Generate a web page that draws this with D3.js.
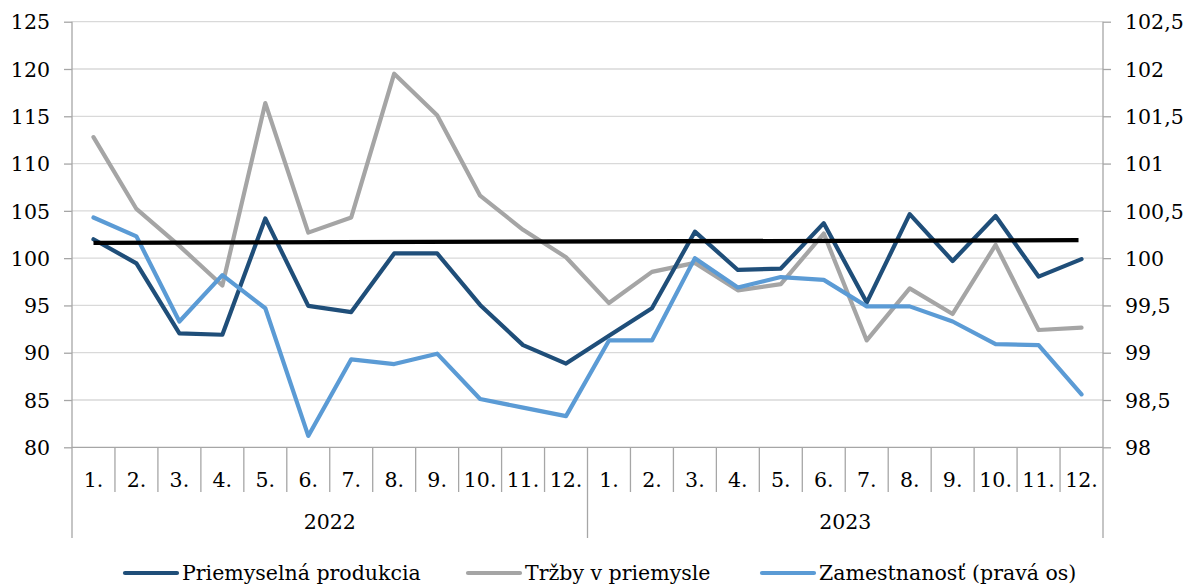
<!DOCTYPE html>
<html>
<head>
<meta charset="utf-8">
<script src="https://cdn.jsdelivr.net/npm/d3@7"></script>
<style>
  html, body { margin: 0; padding: 0; background: #fff; }
  svg text { font-family: "DejaVu Serif", "Liberation Serif", serif; fill: #000; }
</style>
</head>
<body>
<svg id="chart" width="1184" height="585"></svg>
<script>
// Monthly categories grouped by year
const years = ["2022", "2023"];
const months = ["1.", "2.", "3.", "4.", "5.", "6.", "7.", "8.", "9.", "10.", "11.", "12."];

// Index values (left axis)
const production = [102.0, 99.45, 92.05, 91.9, 104.2, 94.95, 94.3, 100.5, 100.5, 95.05, 90.8, 88.85,
                    91.8, 94.7, 102.8, 98.75, 98.9, 103.7, 95.3, 104.65, 99.7, 104.45, 98.05, 99.9];
const sales = [112.8, 105.2, 101.3, 97.1, 116.4, 102.7, 104.3, 119.5, 115.1, 106.6, 103.0, 100.1,
               95.25, 98.55, 99.5, 96.6, 97.25, 102.6, 91.3, 96.8, 94.1, 101.4, 92.4, 92.65];
// Employment index (right axis)
const employment = [100.43, 100.23, 99.33, 99.82, 99.47, 98.12, 98.93, 98.88, 98.99, 98.51, 98.42, 98.33,
                    99.13, 99.13, 100.0, 99.69, 99.80, 99.77, 99.49, 99.49, 99.33, 99.09, 99.08, 98.56];
// Reference line, start and end value on the left axis
const refLine = [101.62, 101.9];

const leftTicks = [80, 85, 90, 95, 100, 105, 110, 115, 120, 125];
const rightTicks = [98, 98.5, 99, 99.5, 100, 100.5, 101, 101.5, 102, 102.5];

const seriesNames = ["Priemyselná produkcia", "Tržby v priemysle", "Zamestnanosť (pravá os)"];
const colors = ["#1F4E79", "#A5A5A5", "#5B9BD5"];

const svg = d3.select("#chart");
const L = 72, R = 1103, T = 21.7, B = 447.3;
const fontSize = 20.5;
const axisColor = "#A6A6A6";

const cats = [];
years.forEach(y => months.forEach(m => cats.push(y + "-" + m)));

const x = d3.scaleBand().domain(cats).range([L, R]).padding(0);
const yL = d3.scaleLinear().domain([80, 125]).range([B, T]);
const yR = d3.scaleLinear().domain([98, 102.5]).range([B, T]);
const cx = i => x(cats[i]) + x.bandwidth() / 2;
const fmt = v => String(v).replace(".", ",");

// horizontal gridlines
svg.append("g").selectAll("line").data(leftTicks.slice(1)).join("line")
  .attr("x1", L).attr("x2", R)
  .attr("y1", d => yL(d)).attr("y2", d => yL(d))
  .attr("stroke", "#D9D9D9").attr("stroke-width", 1.3);

// left axis
const gL = svg.append("g").attr("transform", `translate(${L},0)`)
  .call(d3.axisLeft(yL).tickValues(leftTicks).tickSize(8).tickPadding(14).tickFormat(fmt));
gL.select(".domain").remove();
gL.selectAll(".tick line").attr("stroke", axisColor).attr("stroke-width", 1.3);
gL.selectAll(".tick text").style("font-size", fontSize + "px").attr("dy", "0.35em");

// right axis
const gR = svg.append("g").attr("transform", `translate(${R},0)`)
  .call(d3.axisRight(yR).tickValues(rightTicks).tickSize(8).tickPadding(14).tickFormat(fmt));
gR.select(".domain").remove();
gR.selectAll(".tick line").attr("stroke", axisColor).attr("stroke-width", 1.3);
gR.selectAll(".tick text").style("font-size", fontSize + "px").attr("dy", "0.35em");

// vertical axis lines extending into the category area
const yearBottom = 538;
svg.append("line").attr("x1", L).attr("x2", L).attr("y1", T).attr("y2", yearBottom)
  .attr("stroke", axisColor).attr("stroke-width", 1.3);
svg.append("line").attr("x1", R).attr("x2", R).attr("y1", T).attr("y2", yearBottom)
  .attr("stroke", axisColor).attr("stroke-width", 1.3);

// category axis baseline
svg.append("line").attr("x1", L).attr("x2", R).attr("y1", B).attr("y2", B)
  .attr("stroke", axisColor).attr("stroke-width", 1.3);

// month separators
const sepBottom = 492;
svg.append("g").selectAll("line").data(cats.slice(1)).join("line")
  .attr("x1", d => x(d)).attr("x2", d => x(d))
  .attr("y1", B).attr("y2", d => months.indexOf(d.split("-")[1]) === 0 ? yearBottom : sepBottom)
  .attr("stroke", axisColor).attr("stroke-width", 1.3);

// month labels
svg.append("g").selectAll("text").data(cats).join("text")
  .attr("x", d => x(d) + x.bandwidth() / 2).attr("y", 480)
  .attr("text-anchor", "middle").attr("dy", "0.35em")
  .style("font-size", fontSize + "px")
  .text(d => d.split("-")[1]);

// year labels
svg.append("g").selectAll("text").data(years).join("text")
  .attr("x", y => (x(y + "-" + months[0]) + x(y + "-" + months[11]) + x.bandwidth()) / 2)
  .attr("y", 522).attr("text-anchor", "middle").attr("dy", "0.35em")
  .style("font-size", fontSize + "px")
  .text(y => y);

// series lines
const lineGen = scale => d3.line().x((d, i) => cx(i)).y(d => scale(d));
const series = [
  { values: production, scale: yL },
  { values: sales, scale: yL },
  { values: employment, scale: yR }
];
const plotOrder = [1, 0, 2];
plotOrder.forEach(k => {
  svg.append("path").datum(series[k].values)
    .attr("d", lineGen(series[k].scale))
    .attr("fill", "none").attr("stroke", colors[k]).attr("stroke-width", 4.2)
    .attr("stroke-linejoin", "round").attr("stroke-linecap", "round");
});

// reference line
svg.append("line")
  .attr("x1", cx(0)).attr("x2", cx(cats.length - 1) - 3)
  .attr("y1", yL(refLine[0])).attr("y2", yL(refLine[1]))
  .attr("stroke", "#000").attr("stroke-width", 4.3);

// legend
const legendY = 573;
const legendX = [125, 468, 762];
seriesNames.forEach((name, k) => {
  svg.append("line").attr("x1", legendX[k]).attr("x2", legendX[k] + 52)
    .attr("y1", legendY).attr("y2", legendY)
    .attr("stroke", colors[k]).attr("stroke-width", 4.2).attr("stroke-linecap", "round");
  svg.append("text").attr("x", legendX[k] + 57).attr("y", legendY)
    .attr("dy", "0.35em").style("font-size", fontSize + "px").text(name);
});
</script>
</body>
</html>
